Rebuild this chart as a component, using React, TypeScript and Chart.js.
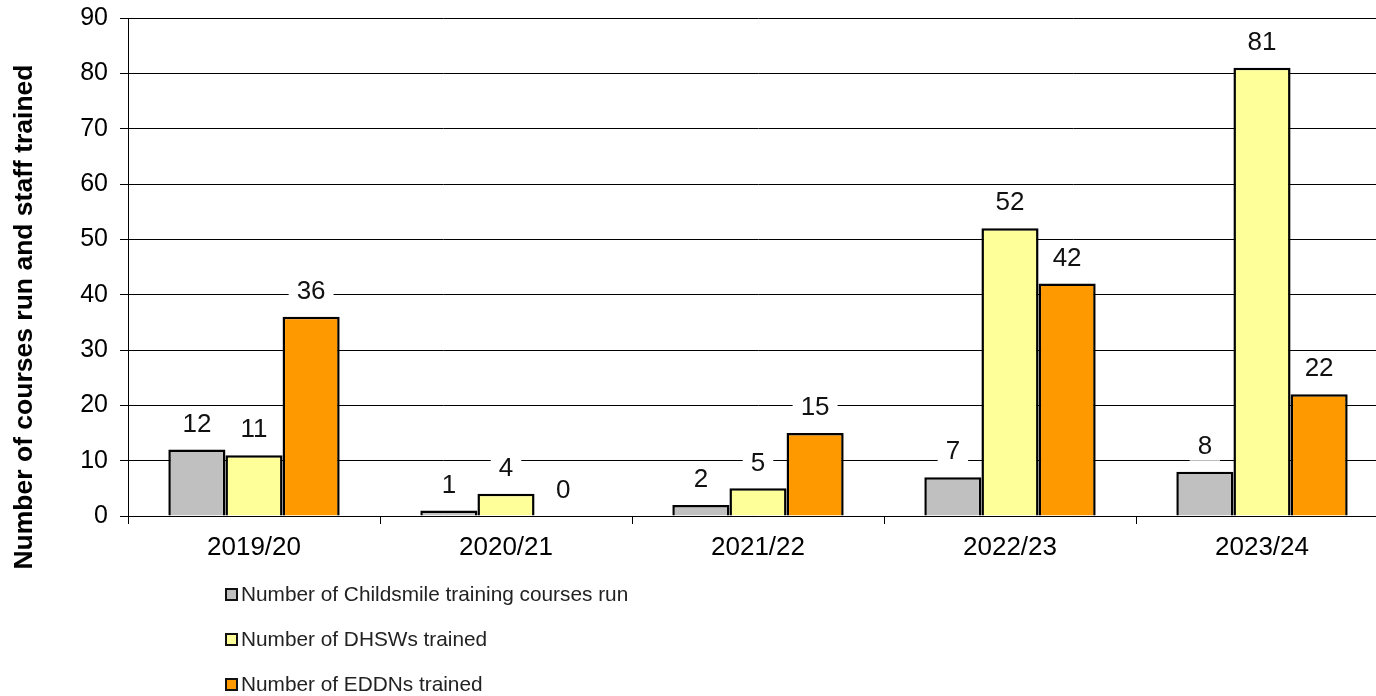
import React, { useEffect, useRef } from "react";
import { Chart, registerables } from "chart.js";

Chart.register(...registerables);

const categories = ["2019/20", "2020/21", "2021/22", "2022/23", "2023/24"];
const coursesRun = [12, 1, 2, 7, 8];
const dhswsTrained = [11, 4, 5, 52, 81];
const eddnsTrained = [36, 0, 15, 42, 22];
const seriesLabels = [
  "Number of Childsmile training courses run",
  "Number of DHSWs trained",
  "Number of EDDNs trained",
];
const seriesColors = ["#C0C0C0", "#FFFF99", "#FF9900"];
const yAxisTitle = "Number of courses run and staff trained";

const FONT = "'Liberation Sans', Arial, sans-serif";

const labelPlugin = {
  id: "customDraw",
  afterDatasetsDraw(chart: any) {
    const ctx = chart.ctx;
    ctx.save();
    ctx.font = `26px ${FONT}`;
    ctx.textAlign = "center";
    ctx.textBaseline = "middle";
    chart.data.datasets.forEach((ds: any, di: number) => {
      const meta = chart.getDatasetMeta(di);
      meta.data.forEach((bar: any, i: number) => {
        const txt = String(ds.data[i]);
        const x = bar.x;
        const y = bar.y - 26;
        const w = ctx.measureText(txt).width + 16;
        ctx.fillStyle = "#ffffff";
        ctx.fillRect(x - w / 2, y - 15, w, 30);
        ctx.fillStyle = "#111111";
        ctx.fillText(txt, x, y + 1);
      });
    });
    ctx.restore();
  },
  afterDraw(chart: any) {
    const ctx = chart.ctx;
    ctx.save();
    // y axis title
    ctx.font = `bold 26.5px ${FONT}`;
    ctx.fillStyle = "#000000";
    ctx.textAlign = "center";
    ctx.textBaseline = "middle";
    ctx.translate(25, 317);
    ctx.rotate(-Math.PI / 2);
    ctx.fillText(yAxisTitle, 0, 0);
    ctx.restore();

    // legend
    ctx.save();
    ctx.font = `20.8px ${FONT}`;
    ctx.textBaseline = "middle";
    ctx.textAlign = "left";
    const ys = [594.5, 639.5, 684.5];
    seriesLabels.forEach((lab, i) => {
      const y = ys[i];
      ctx.fillStyle = seriesColors[i];
      ctx.fillRect(226, y - 5.5, 11, 11);
      ctx.strokeStyle = "#111111";
      ctx.lineWidth = 2;
      ctx.strokeRect(226, y - 5.5, 11, 11);
      ctx.fillStyle = "#222222";
      ctx.fillText(lab, 241, y + 1);
    });
    ctx.restore();
  },
};

export default function App() {
  const ref = useRef<HTMLCanvasElement | null>(null);
  useEffect(() => {
    if (!ref.current) return;
    const chart = new Chart(ref.current, {
      type: "bar",
      data: {
        labels: categories,
        datasets: [coursesRun, dhswsTrained, eddnsTrained].map((d, i) => ({
          label: seriesLabels[i],
          data: d,
          backgroundColor: seriesColors[i],
          borderColor: "#000000",
          borderWidth: 2.5,
          barPercentage: 1,
          categoryPercentage: 0.68,
        })),
      },
      options: {
        responsive: false,
        animation: false,
        layout: { padding: { left: 0, top: 18, right: 12, bottom: 0 } },
        plugins: {
          legend: { display: false },
          tooltip: { enabled: false },
        },
        scales: {
          x: {
            grid: {
              offset: true,
              drawOnChartArea: false,
              drawTicks: true,
              tickLength: 8,
              color: "#000000",
              lineWidth: 1,
            },
            border: { color: "#000000", width: 1 },
            ticks: {
              font: { family: FONT, size: 26 },
              color: "#000000",
              padding: 8,
            },
            afterFit(scale: any) {
              scale.height = 180;
              scale.paddingLeft = 0;
              scale.paddingRight = 0;
            },
          },
          y: {
            min: 0,
            max: 90,
            ticks: {
              stepSize: 10,
              font: { family: FONT, size: 25 },
              color: "#000000",
              padding: 12,
            },
            grid: {
              color: "#000000",
              lineWidth: 1,
              tickLength: 8,
            },
            border: { color: "#000000", width: 1 },
            afterFit(scale: any) {
              scale.width = 128;
              scale.paddingTop = 0;
              scale.paddingBottom = 0;
            },
          },
        },
      },
      plugins: [labelPlugin],
    });
    return () => chart.destroy();
  }, []);
  return (
    <div
      style={{
        position: "fixed",
        left: 0,
        top: 0,
        width: 1376,
        height: 696,
        overflow: "hidden",
        background: "#ffffff",
      }}
    >
      <canvas ref={ref} width={1400} height={696} style={{ display: "block" }} />
    </div>
  );
}
